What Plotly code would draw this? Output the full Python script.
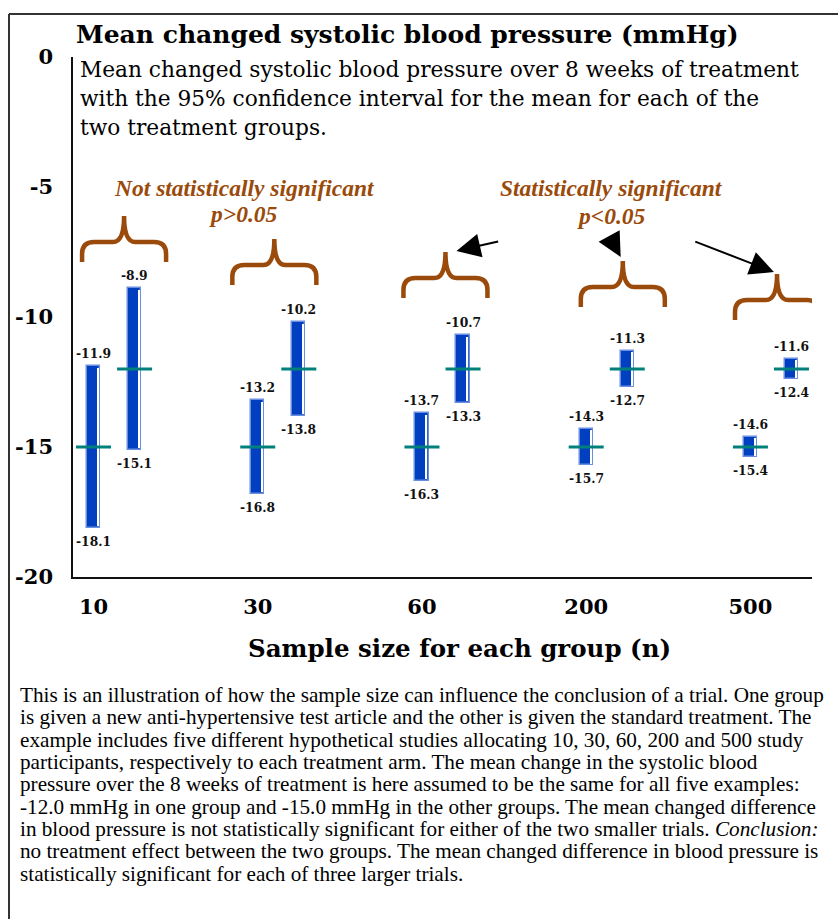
import plotly.graph_objects as go

# ---------------- data ----------------
sample_sizes = ["10", "30", "60", "200", "500"]
y_tick_vals = [0, -5, -10, -15, -20]
y_tick_text = ["0", "-5", "-10", "-15", "-20"]

group1_low = [-18.1, -16.8, -16.3, -15.7, -15.4]
group1_high = [-11.9, -13.2, -13.7, -14.3, -14.6]
group1_mean = [-15.0, -15.0, -15.0, -15.0, -15.0]

group2_low = [-15.1, -13.8, -13.3, -12.7, -12.4]
group2_high = [-8.9, -10.2, -10.7, -11.3, -11.6]
group2_mean = [-12.0, -12.0, -12.0, -12.0, -12.0]

# ---------------- layout constants ----------------
W, H = 838, 919
L, R, T, B = 73, 26, 57, 342
PW, PH = W - L - R, H - T - B
XMIN, XMAX = -0.25, 4.25
YMIN, YMAX = -20, 0
OFF = 0.125
BAR_W = 0.08

BLUE = "#0040C0"
EDGE = "#6A8EE0"
TEAL = "#00807A"
BROWN = "#9A4A0A"
SERIF_B = "DejaVu Serif"
TIMES = "Liberation Serif"

xs = list(range(len(sample_sizes)))
x1 = [i - OFF for i in xs]
x2 = [i + OFF for i in xs]

fig = go.Figure()

for xpos, lo, hi in ((x1, group1_low, group1_high), (x2, group2_low, group2_high)):
    fig.add_trace(go.Bar(
        x=xpos, y=[h - l for h, l in zip(hi, lo)], base=lo, width=BAR_W,
        marker=dict(color=BLUE, line=dict(color=EDGE, width=1.5)),
        showlegend=False, hoverinfo="skip"))
    # white inner highlight along the right edge
    fig.add_trace(go.Bar(
        x=[v + BAR_W / 2 - 0.012 for v in xpos], y=[h - l - 0.12 for h, l in zip(hi, lo)],
        base=[l + 0.06 for l in lo], width=0.008,
        marker=dict(color="white", line=dict(width=0)),
        showlegend=False, hoverinfo="skip"))

for xpos, mn in ((x1, group1_mean), (x2, group2_mean)):
    fig.add_trace(go.Scatter(
        x=xpos, y=mn, mode="markers",
        marker=dict(symbol="line-ew", size=25, line=dict(color=TEAL, width=3)),
        showlegend=False, hoverinfo="skip"))

lab_font = dict(family=SERIF_B, size=12.3, color="#111", weight="bold")
for xpos, lo, hi in ((x1, group1_low, group1_high), (x2, group2_low, group2_high)):
    for xv, l, h in zip(xpos, lo, hi):
        fig.add_annotation(x=xv, y=h, text=f"{h:.1f}", showarrow=False,
                           yanchor="bottom", yshift=3, font=lab_font)
        fig.add_annotation(x=xv, y=l, text=f"{l:.1f}", showarrow=False,
                           yanchor="top", yshift=-4, font=lab_font)

# ---------------- braces ----------------
def px2dx(p):
    return p * (XMAX - XMIN) / PW

def px2dy(p):
    return -p * (YMAX - YMIN) / PH

brace_pts = [("M", -42, 46), ("L", -42, 38), ("Q", -42, 26, -30, 26), ("L", -11, 26),
             ("Q", 0, 26, 0, 0), ("Q", 0, 26, 11, 26), ("L", 30, 26),
             ("Q", 42, 26, 42, 38), ("L", 42, 46)]

def brace_path(cx, cy):
    parts = []
    for seg in brace_pts:
        cmd, nums = seg[0], seg[1:]
        coords = []
        for k in range(0, len(nums), 2):
            coords.append(f"{cx + px2dx(nums[k]):.4f},{cy + px2dy(nums[k + 1]):.4f}")
        parts.append(cmd + " " + " ".join(coords))
    return " ".join(parts)

brace_centers = [(0.061, -6.12), (0.976, -7.0), (2.018, -7.5), (3.098, -7.85), (4.037, -8.35)]
for cx, cy in brace_centers:
    fig.add_shape(type="path", path=brace_path(cx, cy), xref="x", yref="y",
                  line=dict(color=BROWN, width=4.5), fillcolor="rgba(0,0,0,0)")

# ---------------- arrows ----------------
arrows = [((2.085, -7.46), (2.348, -7.08)),
          ((3.085, -7.69), (3.012, -6.85)),
          ((4.018, -8.27), (3.53, -7.08))]
for (hx, hy), (tx, ty) in arrows:
    fig.add_annotation(x=hx, y=hy, ax=tx, ay=ty, axref="x", ayref="y", xref="x", yref="y",
                       text="", showarrow=True, arrowhead=2, arrowsize=2.4,
                       arrowwidth=2, arrowcolor="black")

sig_font = dict(family=TIMES, size=23.5, color=BROWN, weight="bold", style="italic")
fig.add_annotation(x=0.793, y=-5.04, text="Not statistically significant",
                   showarrow=False, font=sig_font)
fig.add_annotation(x=0.787, y=-6.04, text="p>0.05", showarrow=False, font=sig_font)
fig.add_annotation(x=3.031, y=-5.04, text="Statistically significant",
                   showarrow=False, font=sig_font)
fig.add_annotation(x=3.031, y=-6.1, text="p<0.05", showarrow=False, font=sig_font)

# ---------------- titles & texts ----------------
def pxx(p):
    return (p - L) / PW

def pxy(p):
    return (H - B - p) / PH

fig.add_annotation(xref="paper", yref="paper", x=pxx(74), y=pxy(35), xanchor="left",
                   yanchor="middle", showarrow=False,
                   text="Mean changed systolic blood pressure (mmHg)",
                   font=dict(family=SERIF_B, size=25, color="black", weight="bold"))

subtitle = ["Mean changed systolic blood pressure over 8 weeks of treatment",
            "with the 95% confidence interval for the mean for each of the",
            "two treatment groups."]
for k, line in enumerate(subtitle):
    fig.add_annotation(xref="paper", yref="paper", x=pxx(78), y=pxy(69 + 29.5 * k),
                       xanchor="left", yanchor="middle", showarrow=False, text=line,
                       font=dict(family=SERIF_B, size=21.7, color="black"))

fig.add_annotation(xref="paper", yref="paper", x=pxx(459), y=pxy(648), xanchor="center",
                   yanchor="middle", showarrow=False,
                   text="Sample size for each group (n)",
                   font=dict(family=SERIF_B, size=24.5, color="black", weight="bold"))

para = ["This is an illustration of how the sample size can influence the conclusion of a trial. One group",
        "is given a new anti-hypertensive test article and the other is given the standard treatment. The",
        "example includes five different hypothetical studies allocating 10, 30, 60, 200 and 500 study",
        "participants, respectively to each treatment arm. The mean change in the systolic blood",
        "pressure over the 8 weeks of treatment is here assumed to be the same for all five examples:",
        "-12.0 mmHg in one group and -15.0 mmHg in the other groups. The mean changed difference",
        "in blood pressure is not statistically significant for either of the two smaller trials. <i>Conclusion:</i>",
        "no treatment effect between the two groups. The mean changed difference in blood pressure is",
        "statistically significant for each of three larger trials."]
for k, line in enumerate(para):
    fig.add_annotation(xref="paper", yref="paper", x=pxx(18), y=pxy(695 + 22.35 * k),
                       xanchor="left", yanchor="middle", showarrow=False, text=line,
                       font=dict(family=TIMES, size=21.2, color="black"))

# outer frame: only the top and left edges are visible in the picture
frame = dict(color="#333", width=2)
fig.add_shape(type="line", xref="paper", yref="paper",
              x0=pxx(9), y0=pxy(14), x1=pxx(W + 40), y1=pxy(14), line=frame)
fig.add_shape(type="line", xref="paper", yref="paper",
              x0=pxx(9), y0=pxy(14), x1=pxx(9), y1=pxy(H + 40), line=frame)

fig.update_layout(
    width=W, height=H, margin=dict(l=L, r=R, t=T, b=B, autoexpand=False),
    paper_bgcolor="white", plot_bgcolor="white", barmode="overlay", bargap=0,
    xaxis=dict(range=[XMIN, XMAX], tickvals=x1, ticktext=sample_sizes,
               showgrid=False, zeroline=False, showline=True, linecolor="#111", linewidth=1.5,
               ticks="", ticklabelstandoff=10,
               tickfont=dict(family=SERIF_B, size=21, color="black", weight="bold"),
               fixedrange=True),
    yaxis=dict(range=[YMIN, YMAX], tickvals=y_tick_vals, ticktext=y_tick_text,
               showgrid=False, zeroline=False, showline=True, linecolor="#111", linewidth=1.5,
               ticks="", ticklabelstandoff=14,
               tickfont=dict(family=SERIF_B, size=21, color="black", weight="bold"),
               fixedrange=True),
)

fig.write_html("out.html", config={"displayModeBar": False},
               post_script="document.body.style.margin='0';"
                           "document.body.style.overflow='hidden';"
                           "document.documentElement.style.overflow='hidden';")
